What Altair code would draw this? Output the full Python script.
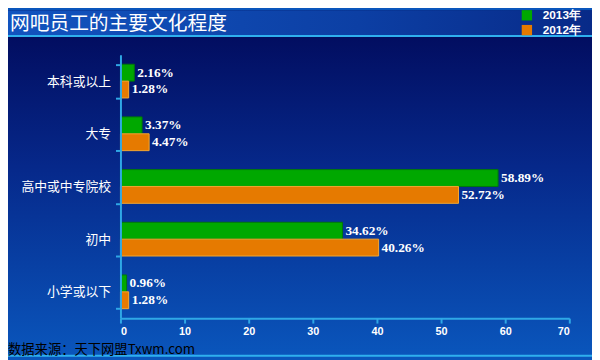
import altair as alt
import pandas as pd

categories = ["本科或以上", "大专", "高中或中专院校", "初中", "小学或以下"]
years = ["2013年", "2012年"]
values_2013 = [2.16, 3.37, 58.89, 34.62, 0.96]
values_2012 = [1.28, 4.47, 52.72, 40.26, 1.28]
x_ticks = [0, 10, 20, 30, 40, 50, 60, 70]
colors = ["#00a800", "#e67a00"]
strokes = ["#00780a", "#f5a830"]

rows = []
for c, v13, v12 in zip(categories, values_2013, values_2012):
    rows.append({"cat": c, "year": years[0], "v": v13, "label": f"{v13:.2f}%"})
    rows.append({"cat": c, "year": years[1], "v": v12, "label": f"{v12:.2f}%"})
df = pd.DataFrame(rows)

W, H = 455, 267
PL, PT, PR, PB = 114, 45, 23, 40
one = pd.DataFrame({"a": [0]})

bg = alt.Chart(one).mark_rect(
    color=alt.Gradient(
        gradient="linear", x1=0, y1=0, x2=0, y2=1,
        stops=[alt.GradientStop(color="#010858", offset=0),
               alt.GradientStop(color="#06288a", offset=0.45),
               alt.GradientStop(color="#0a56bc", offset=1)])
).encode(x=alt.value(-PL), x2=alt.value(W + PR), y=alt.value(-PT), y2=alt.value(H + PB))

header = alt.Chart(one).mark_rect(
    color=alt.Gradient(
        gradient="linear", x1=0, y1=0, x2=1, y2=0,
        stops=[alt.GradientStop(color="#1254bf", offset=0),
               alt.GradientStop(color="#0c3fa4", offset=0.6),
               alt.GradientStop(color="#082a88", offset=1)])
).encode(x=alt.value(-PL), x2=alt.value(W + PR), y=alt.value(-PT), y2=alt.value(-PT + 25))

top_line = alt.Chart(one).mark_rule(color="#2fb0ee", strokeWidth=2).encode(
    x=alt.value(-PL), x2=alt.value(W + PR), y=alt.value(-PT + 26))
bottom_line = alt.Chart(one).mark_rule(color="#2fb0ee", strokeWidth=2).encode(
    x=alt.value(-PL), x2=alt.value(W + PR), y=alt.value(H + PB - 2))

title = alt.Chart(one).mark_text(
    text="网吧员工的主要文化程度", align="left", baseline="middle",
    font="Noto Sans CJK SC", fontSize=20, color="white"
).encode(x=alt.value(-PL + 2), y=alt.value(-PT + 14))

source = alt.Chart(one).mark_text(
    text="数据来源：天下网盟Txwm.com", align="left", baseline="alphabetic",
    font="Noto Sans CJK SC", fontSize=13.5, color="#000000"
).encode(x=alt.value(-PL + 0), y=alt.value(H + PB - 4))

y_enc = alt.Y("cat:N", sort=categories, title=None,
              scale=alt.Scale(paddingInner=0.36, paddingOuter=0.18),
              axis=alt.Axis(tickBand="extent", labelColor="white",
                            labelFont="Noto Sans CJK SC", labelFontSize=13,
                            labelPadding=5, tickSize=5, domainColor="#2fa8e6",
                            tickColor="#2fa8e6", domainWidth=2, tickWidth=2, zindex=2))
yoff = alt.YOffset("year:N", sort=years)
x_enc = alt.X("v:Q", title=None,
              scale=alt.Scale(domain=[0, 70], nice=False),
              axis=alt.Axis(values=x_ticks, labelColor="white", labelFont="Liberation Sans",
                            labelFontWeight="bold", labelFontSize=11, labelPadding=3,
                            tickSize=5, grid=False, domainColor="#2fa8e6",
                            tickColor="#2fa8e6", domainWidth=2, tickWidth=2, zindex=2))

bars = alt.Chart(df).mark_bar(strokeWidth=1).encode(
    x=x_enc, y=y_enc, yOffset=yoff,
    color=alt.Color("year:N", sort=years,
                    scale=alt.Scale(domain=years, range=colors),
                    legend=alt.Legend(title=None, orient="none", legendX=406, legendY=-PT - 1,
                                      symbolType="square", symbolSize=110,
                                      symbolStrokeWidth=0, labelColor="white",
                                      labelFont="Liberation Sans", labelFontWeight="bold",
                                      labelFontSize=12, labelOffset=10, rowPadding=3, zindex=2)),
    stroke=alt.Stroke("year:N", sort=years,
                      scale=alt.Scale(domain=years, range=strokes), legend=None),
)

labels = alt.Chart(df).mark_text(
    align="left", baseline="middle", dx=3, font="Liberation Serif",
    fontWeight="bold", fontSize=13.5, color="white"
).encode(x="v:Q", y=alt.Y("cat:N", sort=categories), yOffset=yoff, text="label:N")

chart = alt.layer(bg, header, top_line, bottom_line, title, source, bars, labels).properties(
    width=W, height=H,
    autosize=alt.AutoSizeParams(type="none"),
    padding={"left": PL, "top": PT, "right": PR, "bottom": PB},
    background="#0a56bc",
).configure_view(stroke=None)

chart.save("out.html", embed_options={"renderer": "svg", "actions": False})
